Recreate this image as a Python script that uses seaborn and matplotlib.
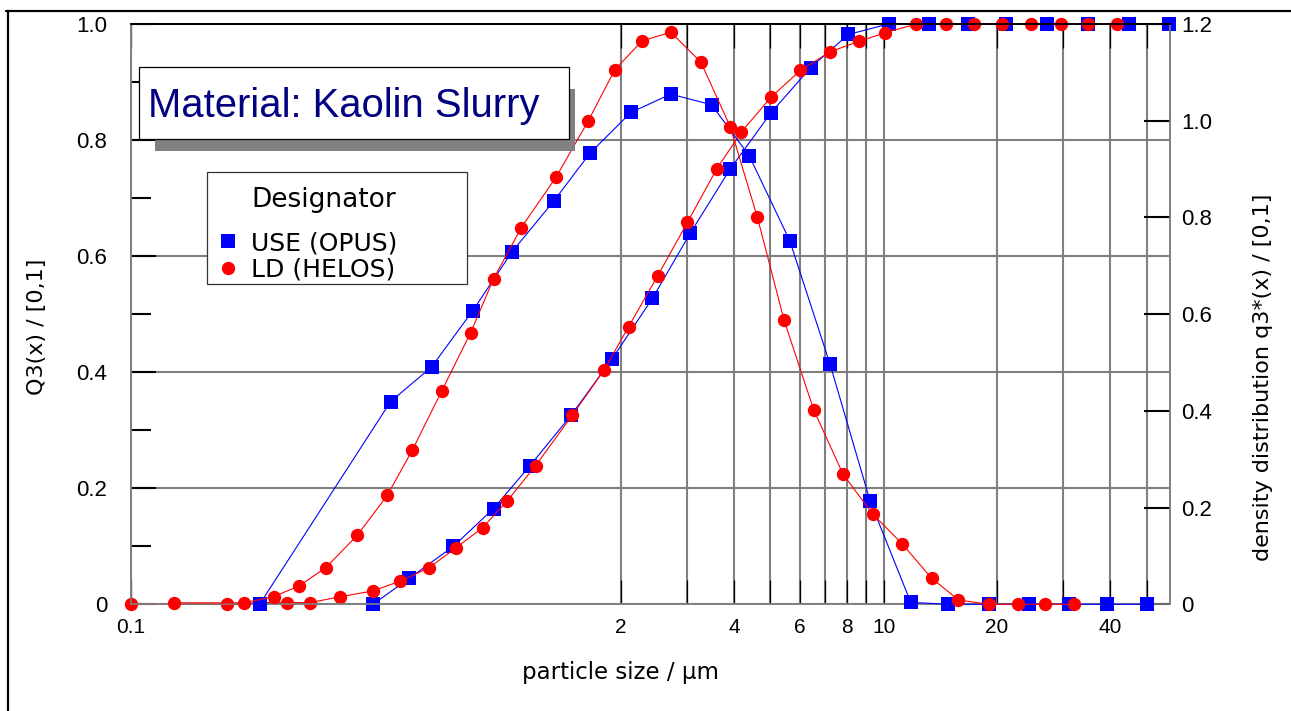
import matplotlib
matplotlib.use("Agg")
import matplotlib.pyplot as plt
import seaborn as sns
from matplotlib.patches import Rectangle
from matplotlib.lines import Line2D
from matplotlib.ticker import FixedLocator, NullLocator

# ---------------- data ----------------
use_cum_x = [0.44, 0.55, 0.72, 0.92, 1.15, 1.48, 1.90, 2.43, 3.06, 3.91, 5.02,
             6.40, 8.06, 10.3, 13.2, 16.7, 21.1, 27.1, 34.8, 44.7, 57.1]
use_cum_q = [0.0, 0.045, 0.100, 0.165, 0.239, 0.326, 0.423, 0.527, 0.639, 0.750, 0.847,
             0.925, 0.982, 1.0, 1.0, 1.0, 1.0, 1.0, 1.0, 1.0, 1.0]

use_den_x = [0.22, 0.49, 0.63, 0.81, 1.03, 1.33, 1.66, 2.13, 2.72, 3.49, 4.39,
             5.63, 7.20, 9.20, 11.8, 14.8, 19.0, 24.3, 31.1, 39.1, 50.2]
use_den_q = [0.0, 0.419, 0.491, 0.607, 0.729, 0.834, 0.933, 1.017, 1.055, 1.033, 0.928,
             0.752, 0.497, 0.214, 0.004, 0.0, 0.0, 0.0, 0.0, 0.0, 0.0]

helos_cum_x = [0.10, 0.18, 0.22, 0.26, 0.30, 0.36, 0.44, 0.52, 0.62, 0.73, 0.86,
               1.00, 1.19, 1.49, 1.81, 2.10, 2.51, 3.01, 3.60, 4.19, 5.02, 6.01,
               7.20, 8.59, 10.1, 12.2, 14.6, 17.4, 20.6, 24.6, 29.6, 34.8, 41.7]
helos_cum_q = [0.0, 0.0, 0.003, 0.003, 0.003, 0.013, 0.023, 0.040, 0.063, 0.097, 0.132,
               0.178, 0.239, 0.326, 0.404, 0.478, 0.566, 0.658, 0.750, 0.814, 0.874, 0.920,
               0.952, 0.970, 0.985, 1.0, 1.0, 1.0, 1.0, 1.0, 1.0, 1.0, 1.0]

helos_den_x = [0.13, 0.20, 0.24, 0.28, 0.33, 0.40, 0.48, 0.56, 0.67, 0.80, 0.92,
               1.09, 1.35, 1.64, 1.93, 2.28, 2.72, 3.27, 3.91, 4.62, 5.44, 6.52,
               7.80, 9.34, 11.2, 13.4, 15.8, 19.0, 22.8, 26.8, 32.0]
helos_den_q = [0.003, 0.003, 0.016, 0.038, 0.076, 0.143, 0.225, 0.319, 0.441, 0.562, 0.673,
               0.779, 0.884, 0.999, 1.105, 1.165, 1.183, 1.121, 0.988, 0.800, 0.587, 0.402,
               0.269, 0.187, 0.125, 0.054, 0.009, 0.0, 0.0, 0.0, 0.0]

x_ticks = [0.1, 2, 3, 4, 5, 6, 7, 8, 9, 10, 20, 30, 40, 50]
x_tick_labels = ['0.1', '2', '', '4', '', '6', '', '8', '', '10', '20', '', '40', '']
left_ticks = [0, 0.2, 0.4, 0.6, 0.8, 1.0]
left_tick_labels = ['0', '0.2', '0.4', '0.6', '0.8', '1.0']
right_ticks = [0, 0.2, 0.4, 0.6, 0.8, 1.0, 1.2]
right_tick_labels = ['0', '0.2', '0.4', '0.6', '0.8', '1.0', '1.2']

series_names = ['USE (OPUS)', 'LD (HELOS)']
title_text = 'Material: Kaolin Slurry'
legend_title = 'Designator'

# ---------------- styling ----------------
sns.set_style("white")
plt.rcParams['font.family'] = ['Liberation Sans', 'DejaVu Sans']
plt.rcParams['text.color'] = 'black'
plt.rcParams['axes.labelcolor'] = 'black'
plt.rcParams['xtick.color'] = 'black'
plt.rcParams['ytick.color'] = 'black'

W, H = 1291, 711
fig = plt.figure(figsize=(W / 100, H / 100), dpi=100)


def fx(px):
    return px / W


def fy(py):
    return 1 - py / H


L, R, T, B = 130.7, 1169.8, 24.0, 604.3
ax = fig.add_axes([fx(L), fy(B), (R - L) / W, (B - T) / H])
ax2 = ax.twinx()

BLUE = '#0000ff'
RED = '#ff0000'
ms = 9.6
lw = 0.8

common = dict(errorbar=None, sort=False, estimator=None, linewidth=lw,
              markersize=ms, markeredgewidth=0, clip_on=False)

sns.lineplot(x=use_cum_x, y=use_cum_q, ax=ax, color=BLUE, marker='s', zorder=3, **common)
sns.lineplot(x=helos_cum_x, y=helos_cum_q, ax=ax, color=RED, marker='o', zorder=4, **common)
sns.lineplot(x=use_den_x, y=use_den_q, ax=ax2, color=BLUE, marker='s', zorder=3, **common)
sns.lineplot(x=helos_den_x, y=helos_den_q, ax=ax2, color=RED, marker='o', zorder=4, **common)

ax.set_xscale('log')
ax.set_xlim(0.1, 57.54)
ax.set_ylim(0, 1)
ax2.set_ylim(0, 1.2)

ax.xaxis.set_major_locator(FixedLocator(x_ticks))
ax.set_xticklabels(x_tick_labels)
ax.xaxis.set_minor_locator(NullLocator())
ax.yaxis.set_major_locator(FixedLocator(left_ticks))
ax.set_yticklabels(left_tick_labels)
ax.yaxis.set_minor_locator(FixedLocator([0.1, 0.3, 0.5, 0.7, 0.9]))
ax2.yaxis.set_major_locator(FixedLocator(right_ticks))
ax2.set_yticklabels(right_tick_labels)
ax2.yaxis.set_minor_locator(NullLocator())

ax.tick_params(axis='x', which='major', direction='in', length=17, width=0.9,
               color='black', labelcolor='black', top=True, bottom=True,
               labelsize=15, pad=10)
ax.tick_params(axis='y', which='major', direction='in', length=18, width=1.5,
               color='black', labelcolor='black', left=True, right=False,
               labelsize=16, pad=17)
ax.tick_params(axis='y', which='minor', direction='in', length=14.5, width=1.5,
               color='black', left=True, right=False)
ax2.tick_params(axis='y', which='major', direction='in', length=18.7, width=1.5,
                color='black', labelcolor='black', right=True, left=False,
                labelsize=16, pad=8)

ax.grid(True, which='major', axis='both', color='#808080', linewidth=1.5)
ax.set_axisbelow(True)

for a in (ax, ax2):
    for side in ('left', 'bottom', 'right'):
        a.spines[side].set_color('#808080')
        a.spines[side].set_linewidth(1.2)
    a.spines['top'].set_color('black')
    a.spines['top'].set_linewidth(1.3)

ax.set_xlabel('particle size / µm', fontsize=16.5, family=['DejaVu Sans'], color='black')
ax.xaxis.set_label_coords(0.4714, -0.097)
ax.set_ylabel('Q3(x) / [0,1]', fontsize=16, family=['DejaVu Sans'], color='black')
ax.yaxis.set_label_coords(-0.0806, 0.478)
ax2.set_ylabel('density distribution q3*(x) / [0,1]', fontsize=16,
               family=['DejaVu Sans'], color='black')
ax2.yaxis.set_label_coords(1.08, 0.392)

# ---------------- title box ----------------
fig.add_artist(Rectangle((fx(155), fy(151)), (575 - 155) / W, (151 - 89) / H,
                         transform=fig.transFigure, facecolor='#808080',
                         edgecolor='none', zorder=5))
fig.add_artist(Rectangle((fx(139), fy(139)), (569 - 139) / W, (139 - 67) / H,
                         transform=fig.transFigure, facecolor='white',
                         edgecolor='black', linewidth=0.9, zorder=6))
fig.text(fx(148), fy(117), title_text, fontsize=28.8, color='#000080',
         ha='left', va='baseline', zorder=7)

# ---------------- legend ----------------
fig.add_artist(Rectangle((fx(206.7), fy(284)), (467 - 206.7) / W, (284 - 172) / H,
                         transform=fig.transFigure, facecolor='white',
                         edgecolor='#333333', linewidth=0.9, zorder=6))
leg_fs = 18
fig.text(fx(251), fy(207), legend_title, fontsize=19, family=['DejaVu Sans'],
         ha='left', va='baseline', zorder=7)
fig.text(fx(251), fy(250), series_names[0], fontsize=leg_fs, family=['DejaVu Sans'],
         ha='left', va='baseline', zorder=7)
fig.text(fx(251), fy(277), series_names[1], fontsize=leg_fs, family=['DejaVu Sans'],
         ha='left', va='baseline', zorder=7)
fig.add_artist(Line2D([fx(227.7)], [fy(241)], transform=fig.transFigure, marker='s',
                      markersize=ms, markeredgewidth=0, color=BLUE, zorder=7))
fig.add_artist(Line2D([fx(227.7)], [fy(268)], transform=fig.transFigure, marker='o',
                      markersize=ms, markeredgewidth=0, color=RED, zorder=7))

# ---------------- figure frame (top and left) ----------------
fig.add_artist(Line2D([fx(6), 1.0], [fy(10.5), fy(10.5)], transform=fig.transFigure,
                      color='black', linewidth=1.6, zorder=8))
fig.add_artist(Line2D([fx(7.5), fx(7.5)], [fy(10.5), 0.0], transform=fig.transFigure,
                      color='black', linewidth=1.6, zorder=8))

fig.savefig('out.png', dpi=100)
